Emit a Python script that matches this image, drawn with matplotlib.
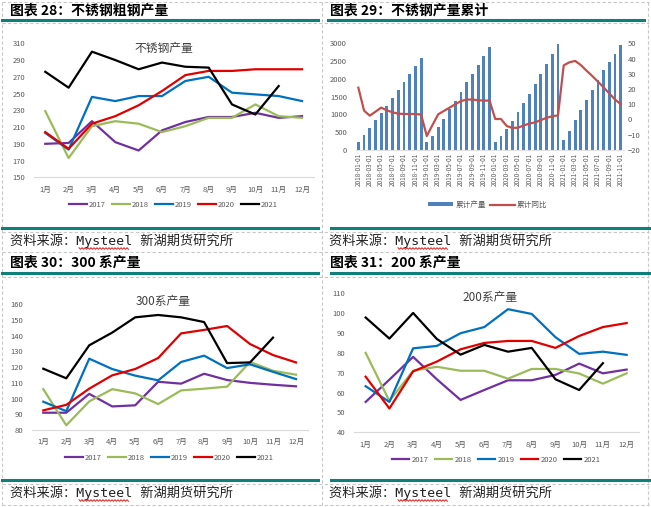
import matplotlib
matplotlib.use('Agg')
import matplotlib.pyplot as plt
from matplotlib.lines import Line2D
import numpy as np
import pandas as pd

plt.rcParams['font.family'] = ['Noto Sans CJK SC', 'DejaVu Sans']

# ---- data ----
months = ['1月', '2月', '3月', '4月', '5月', '6月', '7月', '8月', '9月', '10月', '11月', '12月']
years = ['2017', '2018', '2019', '2020', '2021']
year_colors = ['#7030A0', '#9BBB59', '#0070C0', '#E00000', '#000000']

# 不锈钢产量
crude = {
    '2017': [190, 191, 217, 192, 182, 206, 216, 222, 222, 227, 221, 223],
    '2018': [229, 173, 211, 217, 214, 204, 211, 221, 221, 237, 223, 221],
    '2019': [203, 183, 246, 241, 247, 247, 265, 270, 251, 249, 247, 241],
    '2020': [204, 184, 214, 223, 236, 253, 272, 277, 277, 279, 279, 279],
    '2021': [276, 257, 300, 290, 279, 287, 282, 281, 237, 225, 259],
}
# 300系产量
s300 = {
    '2017': [91, 91, 103, 95, 95.7, 110.7, 109.5, 115.8, 111.8, 110, 108.8, 107.8],
    '2018': [106, 83, 98.2, 106, 103.3, 96.5, 105.2, 106.3, 107.6, 123.3, 117.7, 115.2],
    '2019': [98, 92, 125.4, 118.8, 114.6, 111.6, 123.3, 127.3, 119.4, 121.8, 117, 112.4],
    '2020': [92.5, 96, 106.3, 114.8, 118.8, 125.8, 141.5, 143.7, 146.2, 134.7, 127.7, 123],
    '2021': [119, 112.9, 133.9, 142, 151.7, 153.2, 151.7, 148.7, 122.6, 123, 138.8],
}
# 200系产量
s200 = {
    '2017': [55.3, 66.5, 78, 66.7, 56.3, 61.3, 66.2, 66.2, 68.9, 74.6, 69.7, 71.6],
    '2018': [80, 55.8, 71, 73, 71, 71, 67, 71.9, 71.9, 69.6, 64.5, 69.7],
    '2019': [63.2, 55.3, 82.3, 83.5, 89.9, 93, 102, 99.6, 87.9, 79.5, 80.6, 79],
    '2020': [68, 52, 70.7, 75.6, 81.8, 85, 86, 86, 82.5, 88.5, 93, 95],
    '2021': [97.8, 87.2, 100.1, 87, 79.1, 84, 80.6, 82.5, 66.7, 61.3, 74.8],
}
# 不锈钢产量累计 (2018-01 .. 2021-11)
cum_output = [216, 414, 611, 837, 1034, 1231, 1457, 1683, 1908, 2134, 2359, 2585,
              216, 385, 640, 865, 1137, 1382, 1626, 1908, 2134, 2388, 2641, 2895,
              216, 385, 590, 808, 1062, 1316, 1570, 1852, 2134, 2416, 2698, 2980,
              273, 526, 837, 1119, 1410, 1683, 1965, 2247, 2472, 2698, 2951]
cum_yoy = [20.8, 5.7, 2.4, 5, 7.7, 5.9, 4.6, 3.7, 3.5, 3.5, 3.5, 3.1,
           -11, -3.7, 3.3, 5.5, 7.7, 9.9, 12, 13, 13, 12.5, 12.3, 12.3,
           0.2, 0.2, -4.4, -5.7, -5.5, -4, -2.8, -2, -0.5, 1, 2, 2.6,
           35.5, 37.5, 38.4, 35.7, 32, 28.5, 24.8, 21, 17, 13, 10]
dates = pd.date_range('2018-01-01', periods=len(cum_output), freq='MS')

W, H = 651, 507
fig = plt.figure(figsize=(W / 100, H / 100), dpi=100)
TEAL = '#0F7F7A'
GRAY = '#595959'
DASH = '#C8C8C8'


def px_axes(x0, y0, x1, y1):
    return fig.add_axes([x0 / W, 1 - y1 / H, (x1 - x0) / W, (y1 - y0) / H])


def hline(x0, x1, y, color, lw, ls='-'):
    fig.add_artist(Line2D([x0 / W, x1 / W], [1 - y / H, 1 - y / H], color=color, lw=lw, ls=ls))


def vline(x, y0, y1, color, lw, ls='-'):
    fig.add_artist(Line2D([x / W, x / W], [1 - y0 / H, 1 - y1 / H], color=color, lw=lw, ls=ls))


# frame / decorations
for y in [2, 23, 232, 252, 277, 484, 505]:
    hline(2, 649, y, DASH, 0.8, (0, (3, 2)))
for x in [2, 322, 648]:
    vline(x, 2, 505, DASH, 0.8, (0, (3, 2)))
hline(2, 318, 20, TEAL, 2.2)
hline(328, 644, 20, TEAL, 2.2)
hline(2, 318, 228, TEAL, 2.2)
hline(331, 649, 228, TEAL, 2.2)
hline(2, 318, 273, TEAL, 2.2)
hline(331, 649, 273, TEAL, 2.2)
hline(2, 318, 480, TEAL, 2.2)
hline(331, 649, 480, TEAL, 2.2)

headers = [(10, 11, '图表 28：不锈钢粗钢产量'), (330, 11, '图表 29：不锈钢产量累计'),
           (10, 263, '图表 30：300 系产量'), (330, 263, '图表 31：200 系产量')]
for x, y, t in headers:
    fig.text(x / W, 1 - y / H, t, fontsize=10, fontweight='bold', va='center', ha='left')

for x, y in [(10, 241), (329, 241), (10, 493), (329, 493)]:
    fig.text(x / W, 1 - y / H, '资料来源：Mysteel 新湖期货研究所', fontsize=9.5, va='center', ha='left',
             family=['DejaVu Sans Mono', 'Noto Sans CJK SC'], color='#222222')
    sx = np.arange(x + 69, x + 119, 1.5)
    sy = y + 7.5 + np.where(np.arange(len(sx)) % 2 == 0, -0.8, 0.8)
    fig.add_artist(Line2D(sx / W, 1 - sy / H, color='#E02020', lw=0.7))


def line_chart(box, data, ylim, step, title, title_xy, legend_y):
    ax = px_axes(*box)
    x = np.arange(12)
    for yr, c in zip(years, year_colors):
        vals = data[yr]
        ax.plot(x[:len(vals)], vals, color=c, lw=1.6, label=yr)
    ax.set_xlim(-0.5, 11.5)
    ax.set_ylim(*ylim)
    ax.set_yticks(np.arange(ylim[0], ylim[1] + 1, step))
    ax.set_xticks(x)
    ax.set_xticklabels(months)
    ax.tick_params(length=0, labelsize=5.5, labelcolor=GRAY, pad=6)
    for s in ['top', 'right', 'left']:
        ax.spines[s].set_visible(False)
    ax.spines['bottom'].set_color('#D9D9D9')
    ax.spines['bottom'].set_linewidth(0.8)
    fig.text(title_xy[0] / W, 1 - title_xy[1] / H, title, fontsize=8.5, color='#404040',
             ha='center', va='center')
    cx = (box[0] + box[2]) / 2
    ax.legend(loc='center', bbox_to_anchor=(cx / W, 1 - legend_y / H), bbox_transform=fig.transFigure,
              ncol=5, frameon=False, fontsize=5.5, handlelength=2.3, columnspacing=0.8,
              handletextpad=0.3, labelcolor=GRAY)
    return ax


line_chart((33.6, 43.3, 313.7, 177.3), crude, (150, 310), 20, '不锈钢产量', (164, 48), 205)
line_chart((31.8, 304.3, 307.5, 430), s300, (80, 160), 10, '300系产量', (163, 302), 458)
line_chart((353.8, 293.3, 638.5, 432.3), s200, (40, 110), 10, '200系产量', (490, 298), 460)

# 不锈钢产量累计
ax = px_axes(355.5, 43.3, 623.6, 149.7)
xb = np.arange(len(cum_output))
ax.bar(xb, cum_output, width=0.5, color='#4F81BD', label='累计产量')
ax.set_xlim(-0.5, len(cum_output) - 0.5)
ax.set_ylim(0, 3000)
ax.set_yticks(np.arange(0, 3001, 500))
ax.set_xticks(xb[::2])
ax.set_xticklabels(dates[::2].strftime('%Y-%m-%d'), rotation=90)
ax.tick_params(axis='x', length=0, labelsize=4.6, labelcolor=GRAY, pad=2)
ax.tick_params(axis='y', length=0, labelsize=5.5, labelcolor=GRAY, pad=6)
ax2 = ax.twinx()
ax2.plot(xb, cum_yoy, color='#C0504D', lw=1.6, label='累计同比')
ax2.set_ylim(-20, 50)
ax2.set_yticks(np.arange(-20, 51, 10))
ax2.tick_params(length=0, labelsize=5.5, labelcolor=GRAY, pad=3)
for a in (ax, ax2):
    for s in ['top', 'right', 'left', 'bottom']:
        a.spines[s].set_visible(False)
ax.spines['bottom'].set_visible(True)
ax.spines['bottom'].set_color('#E0E0E0')
h1, l1 = ax.get_legend_handles_labels()
h2, l2 = ax2.get_legend_handles_labels()
ax.legend(h1 + h2, l1 + l2, loc='center', bbox_to_anchor=(488 / W, 1 - 205 / H),
          bbox_transform=fig.transFigure, ncol=2, frameon=False, fontsize=5.5,
          handlelength=3.2, handleheight=0.5, columnspacing=0.6, handletextpad=0.3, labelcolor=GRAY)

fig.savefig('out.png', dpi=100)
